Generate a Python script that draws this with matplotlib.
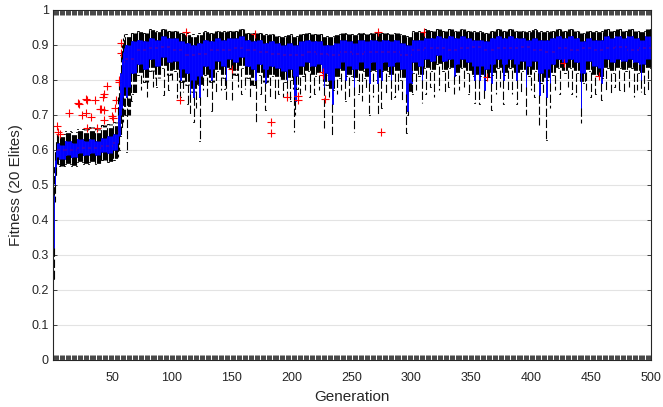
import numpy as np
import matplotlib
matplotlib.use('Agg')
import matplotlib.pyplot as plt

plt.rcParams['font.family'] = ['Liberation Sans', 'DejaVu Sans']
plt.rcParams['lines.scale_dashes'] = False

# box statistics per block of 5 generations (1-5, 6-10, ...)
blk_lo = [0.56, 0.555, 0.56, 0.555, 0.565, 0.56, 0.565, 0.56, 0.57, 0.565,
          0.57, 0.60, 0.70, 0.76, 0.815, 0.795, 0.825, 0.805, 0.835, 0.815,
          0.825, 0.795, 0.785, 0.765, 0.785, 0.815, 0.795, 0.825, 0.805, 0.835,
          0.815, 0.835, 0.805, 0.785, 0.815, 0.795, 0.81, 0.805, 0.795, 0.80,
          0.775, 0.81, 0.825, 0.81, 0.815, 0.785, 0.77, 0.805, 0.825, 0.81,
          0.80, 0.825, 0.805, 0.825, 0.80, 0.825, 0.81, 0.825, 0.80, 0.76,
          0.82, 0.81, 0.835, 0.825, 0.845, 0.825, 0.835, 0.815, 0.835, 0.82,
          0.81, 0.81, 0.80, 0.815, 0.835, 0.815, 0.835, 0.815, 0.825, 0.81,
          0.825, 0.79, 0.80, 0.815, 0.835, 0.82, 0.835, 0.82, 0.79, 0.825,
          0.81, 0.805, 0.835, 0.82, 0.835, 0.825, 0.835, 0.82, 0.815, 0.835]
blk_q1 = [0.58, 0.575, 0.585, 0.58, 0.59, 0.585, 0.59, 0.585, 0.595, 0.59,
          0.60, 0.64, 0.78, 0.82, 0.845, 0.83, 0.86, 0.84, 0.865, 0.85,
          0.855, 0.83, 0.82, 0.80, 0.81, 0.84, 0.83, 0.855, 0.84, 0.86,
          0.85, 0.865, 0.84, 0.83, 0.845, 0.83, 0.84, 0.835, 0.825, 0.83,
          0.81, 0.84, 0.85, 0.84, 0.845, 0.82, 0.80, 0.835, 0.85, 0.84,
          0.83, 0.85, 0.835, 0.85, 0.83, 0.85, 0.84, 0.85, 0.83, 0.79,
          0.85, 0.84, 0.86, 0.855, 0.87, 0.855, 0.86, 0.845, 0.86, 0.85,
          0.84, 0.84, 0.83, 0.845, 0.86, 0.845, 0.86, 0.845, 0.855, 0.84,
          0.855, 0.82, 0.83, 0.845, 0.86, 0.85, 0.86, 0.85, 0.82, 0.855,
          0.84, 0.835, 0.86, 0.85, 0.86, 0.855, 0.86, 0.85, 0.845, 0.86]
blk_q3 = [0.62, 0.615, 0.625, 0.62, 0.63, 0.625, 0.63, 0.625, 0.635, 0.64,
          0.645, 0.70, 0.90, 0.91, 0.915, 0.91, 0.92, 0.915, 0.925, 0.92,
          0.92, 0.91, 0.905, 0.90, 0.905, 0.915, 0.91, 0.92, 0.915, 0.92,
          0.92, 0.925, 0.915, 0.91, 0.915, 0.905, 0.91, 0.905, 0.90, 0.905,
          0.90, 0.91, 0.915, 0.91, 0.91, 0.90, 0.90, 0.905, 0.915, 0.91,
          0.905, 0.915, 0.91, 0.915, 0.91, 0.915, 0.91, 0.915, 0.905, 0.90,
          0.915, 0.915, 0.92, 0.92, 0.925, 0.92, 0.925, 0.92, 0.925, 0.92,
          0.915, 0.915, 0.91, 0.92, 0.925, 0.92, 0.925, 0.92, 0.92, 0.915,
          0.92, 0.915, 0.915, 0.92, 0.925, 0.92, 0.925, 0.92, 0.91, 0.92,
          0.915, 0.915, 0.925, 0.92, 0.925, 0.92, 0.925, 0.92, 0.915, 0.925]
blk_hi = [0.65, 0.645, 0.655, 0.65, 0.66, 0.66, 0.665, 0.66, 0.67, 0.675,
          0.68, 0.75, 0.93, 0.935, 0.94, 0.935, 0.945, 0.94, 0.945, 0.94,
          0.94, 0.935, 0.935, 0.93, 0.935, 0.94, 0.935, 0.94, 0.94, 0.94,
          0.94, 0.945, 0.935, 0.935, 0.935, 0.93, 0.93, 0.925, 0.925, 0.93,
          0.925, 0.93, 0.935, 0.93, 0.93, 0.925, 0.925, 0.93, 0.935, 0.93,
          0.93, 0.935, 0.93, 0.935, 0.935, 0.935, 0.93, 0.935, 0.93, 0.925,
          0.94, 0.94, 0.945, 0.94, 0.945, 0.94, 0.945, 0.94, 0.945, 0.94,
          0.94, 0.94, 0.935, 0.94, 0.945, 0.94, 0.945, 0.94, 0.94, 0.94,
          0.945, 0.94, 0.94, 0.94, 0.945, 0.94, 0.945, 0.94, 0.935, 0.94,
          0.94, 0.94, 0.945, 0.94, 0.945, 0.94, 0.945, 0.94, 0.94, 0.945]
# medians per block of 10 generations
blk_med = [0.60, 0.60, 0.605, 0.605, 0.61, 0.62, 0.86, 0.885, 0.89, 0.895,
           0.885, 0.87, 0.875, 0.885, 0.885, 0.89, 0.885, 0.88, 0.875, 0.87,
           0.87, 0.88, 0.875, 0.87, 0.88, 0.875, 0.88, 0.88, 0.88, 0.87,
           0.885, 0.89, 0.89, 0.885, 0.89, 0.895, 0.885, 0.89, 0.89, 0.895,
           0.885, 0.88, 0.89, 0.885, 0.89, 0.885, 0.89, 0.895, 0.885, 0.89]

# generations read one by one (start and jump)
ear_gen = [1, 2, 3, 55, 56, 57, 58, 59, 60]
ear_lo = [0.23, 0.45, 0.52, 0.58, 0.60, 0.64, 0.66, 0.68, 0.70]
ear_q1 = [0.32, 0.50, 0.55, 0.62, 0.64, 0.70, 0.72, 0.75, 0.78]
ear_med = [0.40, 0.54, 0.57, 0.65, 0.68, 0.76, 0.80, 0.83, 0.85]
ear_q3 = [0.47, 0.57, 0.60, 0.70, 0.74, 0.82, 0.86, 0.88, 0.89]
ear_hi = [0.55, 0.60, 0.63, 0.75, 0.79, 0.87, 0.90, 0.92, 0.93]

# generations with a long lower whisker and a low box
dip_gen = [62, 107, 115, 118, 123, 133, 145, 170, 178, 196, 202, 203, 227,
           234, 245, 252, 265, 272, 275, 283, 296, 297, 309, 336, 353, 357,
           361, 367, 377, 388, 396, 407, 413, 416, 442, 459, 492]
dip_lo = [0.595, 0.75, 0.70, 0.68, 0.626, 0.71, 0.74, 0.677, 0.714, 0.75,
          0.652, 0.70, 0.663, 0.638, 0.74, 0.652, 0.70, 0.70, 0.72, 0.74,
          0.648, 0.70, 0.734, 0.76, 0.734, 0.73, 0.74, 0.714, 0.73, 0.73,
          0.70, 0.671, 0.629, 0.72, 0.676, 0.743, 0.767]
dip_q1 = [0.75, 0.80, 0.76, 0.75, 0.75, 0.80, 0.80, 0.80, 0.79, 0.80,
          0.75, 0.74, 0.78, 0.73, 0.80, 0.78, 0.79, 0.79, 0.80, 0.80,
          0.76, 0.71, 0.80, 0.81, 0.80, 0.80, 0.77, 0.79, 0.80, 0.80,
          0.78, 0.757, 0.75, 0.79, 0.72, 0.79, 0.80]

# other generations whose lower whisker reaches further down
spk_gen = [66, 70, 74, 79, 84, 87, 93, 97, 100, 104, 109, 113, 120, 126, 129,
           137, 141, 144, 150, 155, 158, 161, 165, 174, 182, 186, 189, 193,
           199, 207, 211, 215, 219, 223, 231, 238, 241, 248, 256, 259, 262,
           268, 279, 286, 289, 292, 301, 304, 312, 316, 319, 323, 328, 331,
           340, 344, 348, 371, 374, 381, 384, 392, 400, 403, 410, 420, 424,
           431, 434, 438, 446, 450, 454, 463, 467, 470, 474, 478, 482, 486,
           489, 495, 498]
spk_lo = [0.74, 0.76, 0.77, 0.75, 0.78, 0.78, 0.757, 0.77, 0.80, 0.748,
          0.767, 0.73, 0.72, 0.771, 0.75, 0.765, 0.77, 0.775, 0.743, 0.78,
          0.76, 0.775, 0.75, 0.76, 0.75, 0.74, 0.76, 0.75, 0.74, 0.76, 0.77,
          0.75, 0.76, 0.77, 0.75, 0.76, 0.77, 0.75, 0.76, 0.74, 0.77, 0.75,
          0.76, 0.75, 0.77, 0.74, 0.76, 0.77, 0.76, 0.78, 0.75, 0.77, 0.76,
          0.78, 0.77, 0.78, 0.76, 0.76, 0.78, 0.77, 0.76, 0.76, 0.77, 0.75,
          0.76, 0.77, 0.76, 0.78, 0.76, 0.75, 0.77, 0.75, 0.76, 0.77, 0.76,
          0.78, 0.77, 0.76, 0.78, 0.75, 0.77, 0.76, 0.77]

# outliers (red +)
out_gen = [4, 5, 6, 14, 21, 22, 25, 28, 28, 29, 29, 32, 36, 37, 40, 41, 42,
           43, 43, 43, 46, 50, 51, 52, 53, 56, 56, 57, 57,
           107, 112, 150, 169, 183, 183, 196, 205, 205, 226, 226, 228,
           272, 275, 311, 363, 428, 457]
out_val = [0.669, 0.652, 0.646, 0.705, 0.735, 0.731, 0.70, 0.747, 0.706,
           0.664, 0.743, 0.695, 0.743, 0.664, 0.716, 0.716, 0.752, 0.76,
           0.715, 0.686, 0.783, 0.697, 0.69, 0.719, 0.743, 0.795, 0.80,
           0.878, 0.905,
           0.743, 0.938, 0.83, 0.932, 0.68, 0.648, 0.752, 0.755, 0.743,
           0.823, 0.814, 0.746, 0.938, 0.651, 0.938, 0.808, 0.849, 0.811]

gens = np.arange(1, 501)
stats = []
for g in gens:
    b = (g - 1) // 5
    lo, q1, q3, hi = blk_lo[b], blk_q1[b], blk_q3[b], blk_hi[b]
    med = blk_med[(g - 1) // 10]
    if g in ear_gen:
        i = ear_gen.index(g)
        lo, q1, med, q3, hi = ear_lo[i], ear_q1[i], ear_med[i], ear_q3[i], ear_hi[i]
    if g in spk_gen:
        lo = spk_lo[spk_gen.index(g)]
    if g in dip_gen:
        i = dip_gen.index(g)
        lo, q1 = dip_lo[i], dip_q1[i]
    fl = [v for gg, v in zip(out_gen, out_val) if gg == g]
    stats.append(dict(whislo=lo, q1=q1, med=med, q3=q3, whishi=hi, fliers=fl))

fig = plt.figure(figsize=(6.63, 4.07), dpi=100)
ax = fig.add_axes([0.080, 0.1155, 0.902, 0.86])
ax.yaxis.grid(True, color='#e3e3e3', lw=0.8)
ax.set_axisbelow(True)

ax.bxp(stats, positions=gens, widths=0.5, capwidths=0.3, manage_ticks=False,
       boxprops=dict(color='blue', lw=0.7),
       whiskerprops=dict(color='black', lw=0.8, linestyle=(0, (6, 2))),
       capprops=dict(color='black', lw=0.6),
       medianprops=dict(color='red', lw=0.3),
       flierprops=dict(marker='+', markeredgecolor='red', markersize=6,
                       markeredgewidth=0.8, linestyle='none'))

ax.set_xlim(0.5, 500.5)
ax.set_ylim(0, 1)
ax.set_xticks(gens)
ax.set_xticklabels([str(g) if g % 50 == 0 else '' for g in gens])
ax.set_yticks(np.arange(0, 1.01, 0.1))
ax.set_yticklabels(['0', '0.1', '0.2', '0.3', '0.4', '0.5', '0.6', '0.7',
                    '0.8', '0.9', '1'])
ax.tick_params(axis='x', direction='in', length=3.5, width=0.6, top=True,
               colors='#262626', labelsize=9, pad=9)
ax.tick_params(axis='y', direction='in', length=3, width=0.6, right=True,
               colors='#262626', labelsize=9, pad=3)
for s in ax.spines.values():
    s.set_color('#262626')
    s.set_linewidth(0.8)

ax.set_xlabel('Generation', fontsize=11, color='#262626', labelpad=4)
ax.set_ylabel('Fitness (20 Elites)', fontsize=11, color='#262626', labelpad=6)

fig.savefig('out.png', dpi=100)
